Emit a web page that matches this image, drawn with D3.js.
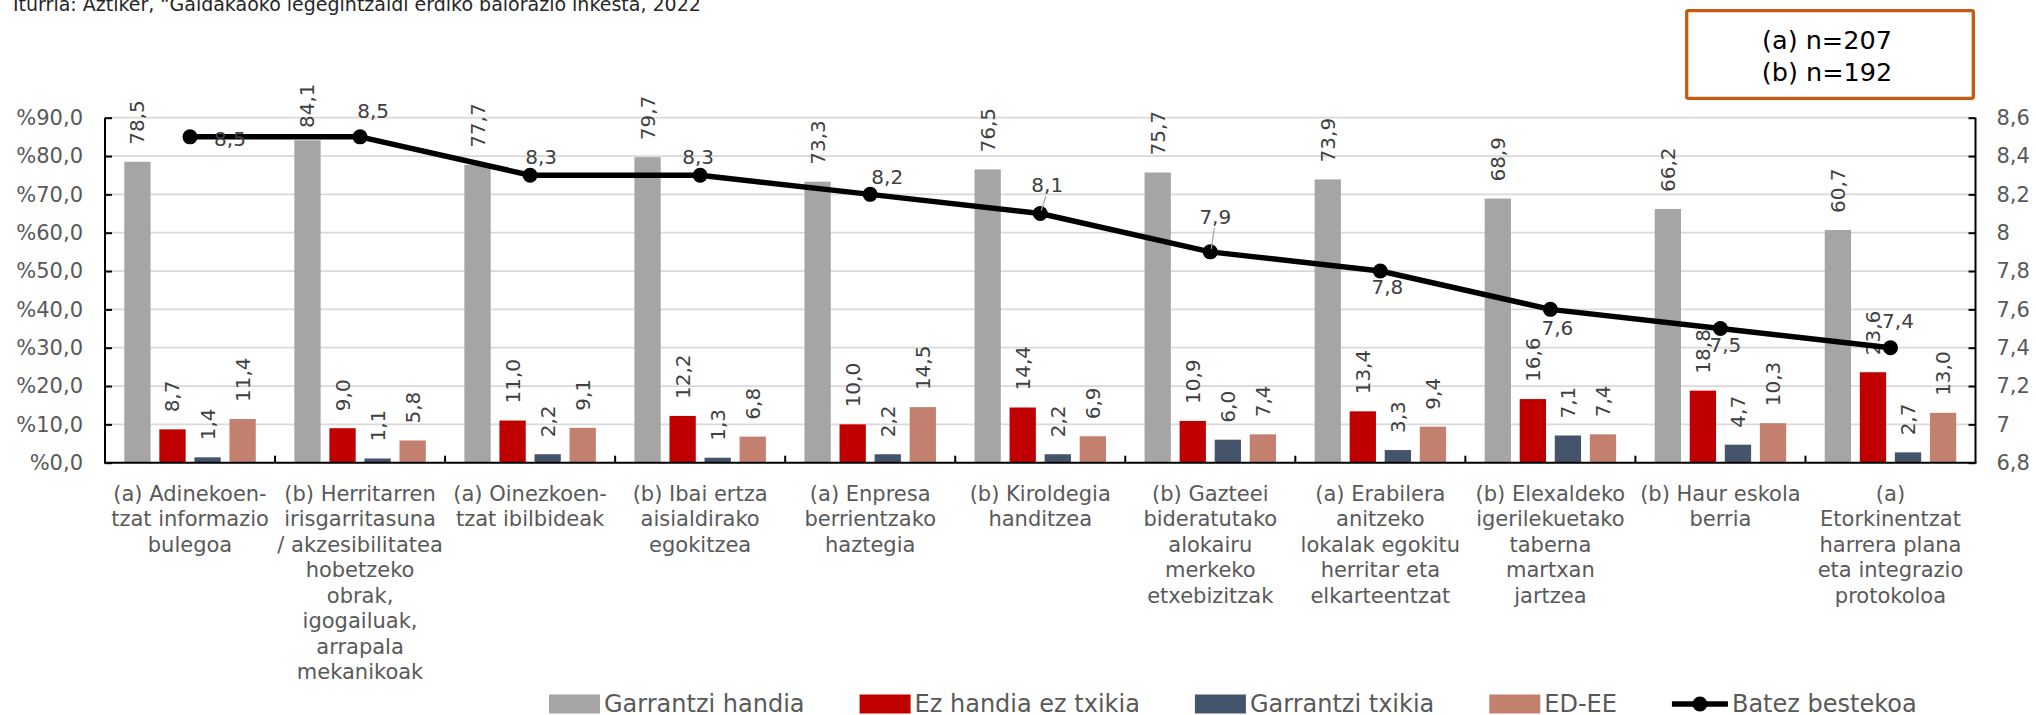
<!DOCTYPE html>
<html>
<head>
<meta charset="utf-8">
<script src="https://cdn.jsdelivr.net/npm/d3@7"></script>
<style>
  html, body { margin: 0; padding: 0; background: #fff; }
  svg { display: block; font-family: "DejaVu Sans", Verdana, sans-serif; }
</style>
</head>
<body>
<svg id="chart" width="2036" height="715"></svg>
<script>
// ---------- DATA ----------
const categories = [
  "(a) Adinekoen-\ntzat informazio\nbulegoa",
  "(b) Herritarren\nirisgarritasuna\n/ akzesibilitatea\nhobetzeko\nobrak,\nigogailuak,\narrapala\nmekanikoak",
  "(a) Oinezkoen-\ntzat ibilbideak",
  "(b) Ibai ertza\naisialdirako\negokitzea",
  "(a) Enpresa\nberrientzako\nhaztegia",
  "(b) Kiroldegia\nhanditzea",
  "(b) Gazteei\nbideratutako\nalokairu\nmerkeko\netxebizitzak",
  "(a) Erabilera\nanitzeko\nlokalak egokitu\nherritar eta\nelkarteentzat",
  "(b) Elexaldeko\nigerilekuetako\ntaberna\nmartxan\njartzea",
  "(b) Haur eskola\nberria",
  "(a)\nEtorkinentzat\nharrera plana\neta integrazio\nprotokoloa"
];
const seriesNames = ["Garrantzi handia", "Ez handia ez txikia", "Garrantzi txikia", "ED-EE"];
const garrantziHandia = [78.5, 84.1, 77.7, 79.7, 73.3, 76.5, 75.7, 73.9, 68.9, 66.2, 60.7];
const ezHandiaEzTxikia = [8.7, 9.0, 11.0, 12.2, 10.0, 14.4, 10.9, 13.4, 16.6, 18.8, 23.6];
const garrantziTxikia = [1.4, 1.1, 2.2, 1.3, 2.2, 2.2, 6.0, 3.3, 7.1, 4.7, 2.7];
const edEe = [11.4, 5.8, 9.1, 6.8, 14.5, 6.9, 7.4, 9.4, 7.4, 10.3, 13.0];
const lineName = "Batez bestekoa";
const batezBestekoa = [8.5, 8.5, 8.3, 8.3, 8.2, 8.1, 7.9, 7.8, 7.6, 7.5, 7.4];
const leftTicks = [0, 10, 20, 30, 40, 50, 60, 70, 80, 90];
const leftTickLabels = ["%0,0", "%10,0", "%20,0", "%30,0", "%40,0", "%50,0", "%60,0", "%70,0", "%80,0", "%90,0"];
const rightTicks = [6.8, 7.0, 7.2, 7.4, 7.6, 7.8, 8.0, 8.2, 8.4, 8.6];
const rightTickLabels = ["6,8", "7", "7,2", "7,4", "7,6", "7,8", "8", "8,2", "8,4", "8,6"];
const sourceText = "Iturria: Aztiker,  \u201CGaldakaoko legegintzaldi erdiko balorazio inkesta, 2022";
const sampleNotes = ["(a) n=207", "(b) n=192"];

// ---------- STYLE / LAYOUT ----------
const barValues = [garrantziHandia, ezHandiaEzTxikia, garrantziTxikia, edEe];
const colors = ["#A5A5A5", "#C00000", "#44546A", "#C3806F"];
const plot = { left: 105, right: 1975.5, top: 117.7, bottom: 462.7 };
// custom offsets of the line data labels (dx, dy from point), leader flags
const lineLabelOffsets = [[40, 2.5], [13, -26], [11, -18.5], [-2, -18.5], [17, -17.7], [7, -28.5], [5, -34.6], [7, 16.3], [7, 19], [5, 16.5], [7.5, -27]];
const leaderFlags = [0, 0, 0, 0, 0, 1, 1, 0, 0, 0, 0];
const fmt = v => v.toFixed(1).replace(".", ",");

const svg = d3.select("#chart");

const x0 = d3.scaleBand().domain(d3.range(categories.length)).range([plot.left, plot.right]).paddingInner(0).paddingOuter(0);
const x1 = d3.scaleBand().domain(d3.range(seriesNames.length)).range([0, x0.bandwidth()]).paddingInner(0.25).paddingOuter(0.55);
const y = d3.scaleLinear().domain([0, 90]).range([plot.bottom, plot.top]);
const y2 = d3.scaleLinear().domain([6.8, 8.6]).range([plot.bottom, plot.top]);

// source text (clipped at top like the reference)
svg.append("text").attr("x", 13).attr("y", 11).attr("font-size", 19).attr("fill", "#262626").text(sourceText);

// gridlines
svg.append("g").selectAll("line").data(leftTicks.filter(d => d > 0)).join("line")
  .attr("x1", plot.left).attr("x2", plot.right)
  .attr("y1", d => y(d)).attr("y2", d => y(d))
  .attr("stroke", "#D9D9D9").attr("stroke-width", 1.75);

// bars
const gBars = svg.append("g");
barValues.forEach((vals, s) => {
  gBars.selectAll(null).data(vals).join("rect")
    .attr("x", (d, i) => x0(i) + x1(s))
    .attr("width", x1.bandwidth())
    .attr("y", d => y(d))
    .attr("height", d => y(0) - y(d))
    .attr("fill", colors[s]);
});

// axes
const leftAxis = d3.axisLeft(y).tickValues(leftTicks).tickSize(-7).tickPadding(22).tickFormat((d, i) => leftTickLabels[i]);
const gL = svg.append("g").attr("transform", `translate(${plot.left},0)`).call(leftAxis);
const rightAxis = d3.axisRight(y2).tickValues(rightTicks).tickSize(-7).tickPadding(21).tickFormat((d, i) => rightTickLabels[i]);
const gR = svg.append("g").attr("transform", `translate(${plot.right},0)`).call(rightAxis);
[gL, gR].forEach(g => {
  g.select(".domain").attr("stroke", "#000").attr("stroke-width", 2);
  g.selectAll(".tick line").attr("stroke", "#000").attr("stroke-width", 2);
  g.selectAll(".tick text").attr("font-size", 21).attr("fill", "#595959").attr("font-family", "DejaVu Sans, Verdana, sans-serif");
});
gL.select(".domain").attr("d", `M0,${plot.top}V${plot.bottom}`);
gR.select(".domain").attr("d", `M0,${plot.top}V${plot.bottom}`);
gL.selectAll(".tick text").attr("x", -22);
gR.selectAll(".tick text").attr("x", 21);

// bottom axis
const xBoundary = d3.range(1, categories.length).map(i => x0(i));
svg.append("line").attr("x1", plot.left - 1).attr("x2", plot.right + 1).attr("y1", plot.bottom).attr("y2", plot.bottom).attr("stroke", "#000").attr("stroke-width", 2);
svg.append("g").selectAll("line").data(xBoundary).join("line")
  .attr("x1", d => d).attr("x2", d => d).attr("y1", plot.bottom).attr("y2", plot.bottom - 7)
  .attr("stroke", "#000").attr("stroke-width", 2);

// category labels
const gCat = svg.append("g").attr("font-size", 21).attr("fill", "#595959").attr("text-anchor", "middle");
categories.forEach((c, i) => {
  const t = gCat.append("text").attr("x", x0(i) + x0.bandwidth() / 2).attr("y", 493.3);
  c.split("\n").forEach((line, k) => {
    t.append("tspan").attr("x", x0(i) + x0.bandwidth() / 2).attr("dy", k === 0 ? "0.35em" : 25.5).text(line);
  });
});

// bar value labels (rotated)
const gBL = svg.append("g").attr("font-size", 20).attr("fill", "#404040");
barValues.forEach((vals, s) => {
  gBL.selectAll(null).data(vals).join("text")
    .attr("transform", (d, i) => {
      const cx = x0(i) + x1(s) + x1.bandwidth() / 2;
      let yy = y(d) - 17;
      if (yy - 43 < 84) yy = 128; // kept inside chart area
      return `translate(${cx},${yy}) rotate(-90)`;
    })
    .attr("dy", "0.35em")
    .text(d => fmt(d));
});

// line series
const cx = i => x0(i) + x0.bandwidth() / 2;
const lineGen = d3.line().x((d, i) => cx(i)).y(d => y2(d));
svg.append("path").datum(batezBestekoa).attr("d", lineGen).attr("fill", "none").attr("stroke", "#000").attr("stroke-width", 5.5).attr("stroke-linejoin", "round");
svg.append("g").selectAll("circle").data(batezBestekoa).join("circle")
  .attr("cx", (d, i) => cx(i)).attr("cy", d => y2(d)).attr("r", 7.5).attr("fill", "#000");

// leader lines
batezBestekoa.forEach((d, i) => {
  if (!leaderFlags[i]) return;
  const [dx, dy] = lineLabelOffsets[i];
  svg.append("line").attr("x1", cx(i) + dx * 0.8).attr("y1", y2(d) + dy + 11).attr("x2", cx(i) + 1).attr("y2", y2(d) - 3)
    .attr("stroke", "#A6A6A6").attr("stroke-width", 1.2);
});
svg.append("g").attr("font-size", 20).attr("fill", "#404040").attr("text-anchor", "middle")
  .selectAll("text").data(batezBestekoa).join("text")
  .attr("x", (d, i) => cx(i) + lineLabelOffsets[i][0])
  .attr("y", (d, i) => y2(d) + lineLabelOffsets[i][1])
  .attr("dy", "0.35em")
  .text(d => fmt(d));

// sample-size box
svg.append("rect").attr("x", 1686.7).attr("y", 10.7).attr("width", 286.6).attr("height", 87.6)
  .attr("fill", "#fff").attr("stroke", "#C55A11").attr("stroke-width", 3.3).attr("rx", 1.5);
svg.append("g").attr("font-size", 25.5).attr("fill", "#000").attr("text-anchor", "middle")
  .selectAll("text").data(sampleNotes).join("text")
  .attr("x", 1827).attr("y", (d, i) => 40 + i * 31.7).attr("dy", "0.35em").text(d => d);

// legend
const legendY = 704;
const gLeg = svg.append("g").attr("font-size", 24).attr("fill", "#595959");
let lx = 549;
const legendItems = seriesNames.map((n, i) => ({ name: n, color: colors[i], type: "rect" })).concat([{ name: lineName, color: "#000", type: "line" }]);
legendItems.forEach(it => {
  if (it.type === "rect") {
    gLeg.append("rect").attr("x", lx).attr("y", legendY - 9.5).attr("width", 51).attr("height", 19).attr("fill", it.color);
  } else {
    gLeg.append("line").attr("x1", lx).attr("x2", lx + 56).attr("y1", legendY).attr("y2", legendY).attr("stroke", "#000").attr("stroke-width", 5.5);
    gLeg.append("circle").attr("cx", lx + 28).attr("cy", legendY).attr("r", 7.5).attr("fill", "#000");
  }
  const sw = it.type === "rect" ? 51 : 56;
  const t = gLeg.append("text").attr("x", lx + sw + 4).attr("y", legendY).attr("dy", "0.35em").text(it.name);
  lx = lx + sw + 4 + t.node().getComputedTextLength() + 55;
});
</script>
</body>
</html>
